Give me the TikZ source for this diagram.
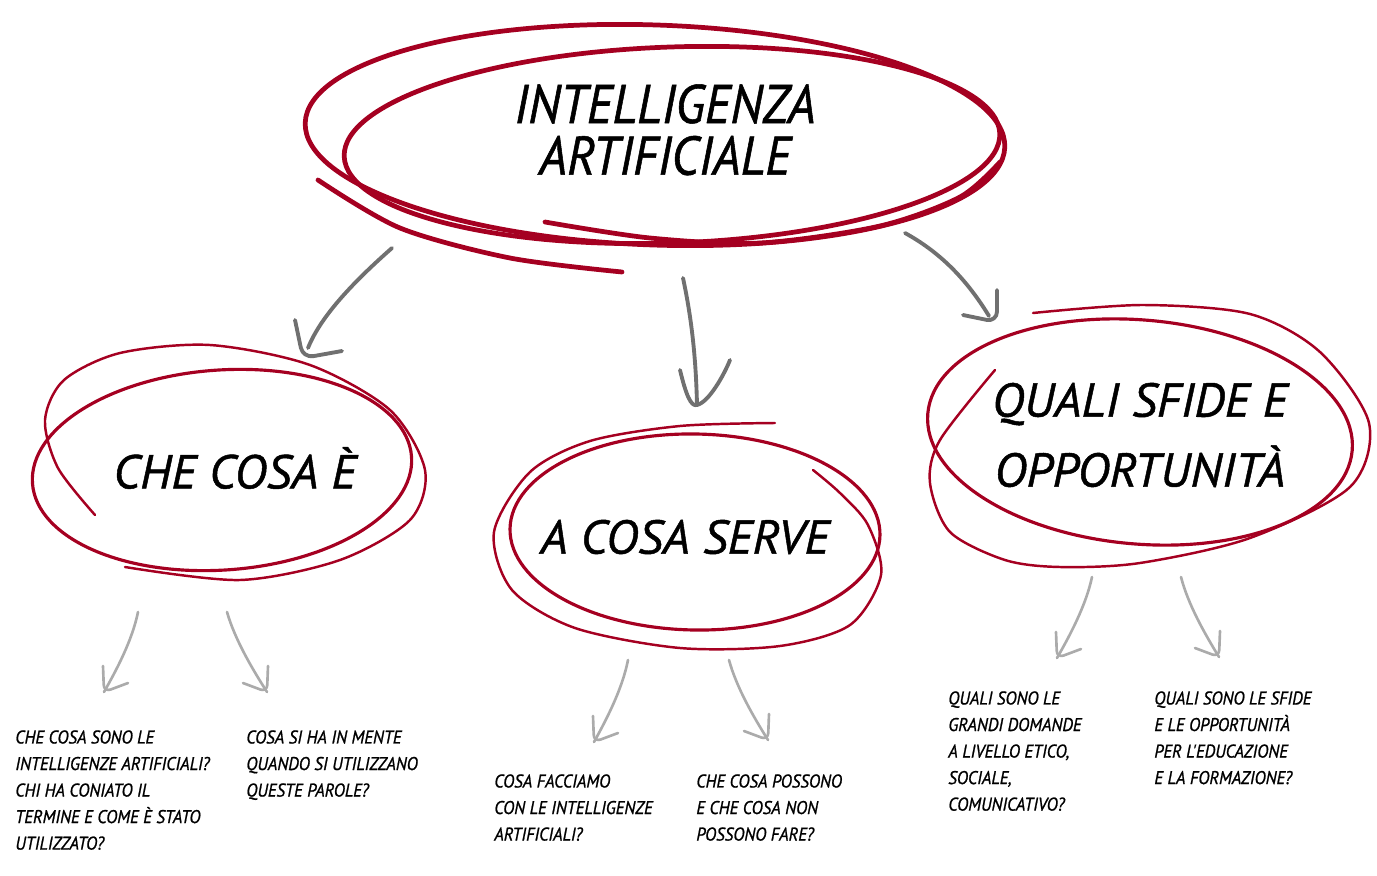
\documentclass[tikz,border=0pt]{standalone}
\usepackage{fontspec}
\newfontfamily\hand{PT Sans}[FakeStretch=0.92, FakeBold=1]
\newfontfamily\handwide{PT Sans}[FakeStretch=1.03, FakeBold=1]
\usetikzlibrary{positioning,calc}
\definecolor{scribred}{HTML}{A50021}
\definecolor{arrowdark}{HTML}{707070}
\definecolor{arrowlight}{HTML}{ABABAB}
\tikzset{
  scrib/.style={draw=scribred, line width=1.8pt, line cap=round},
  thinscrib/.style={draw=scribred, line width=1.4pt, line cap=round},
  bigscrib/.style={draw=scribred, line width=2.7pt, line cap=round},
  toparrow/.style={draw=arrowdark, line width=2.2pt, line cap=round, line join=round},
  subarrow/.style={draw=arrowlight, line width=1.5pt, line cap=round, line join=round},
  question/.style={anchor=north west, inner sep=0pt, align=left, font=\hand\itshape\fontsize{10.5}{15.1}\selectfont},
  topic/.style={inner sep=0pt, align=center, font=\handwide\itshape\fontsize{27}{39.8}\selectfont},
  titleline/.style={inner sep=0pt, font=\hand\itshape\fontsize{31}{36}\selectfont}
}

\begin{document}
\begin{tikzpicture}[x=0.02cm, y=-0.02cm]
\useasboundingbox (0,0) rectangle (1377,876);

% the title
\node (Title) [titleline] at (665,104) {INTELLIGENZA};
\node (Title2) [titleline, below=0.23cm of Title] {ARTIFICIALE};
\draw[bigscrib] (655,135) ellipse [x radius=350, y radius=110, rotate=-2];
\draw[bigscrib] (672,145) ellipse [x radius=328, y radius=98, rotate=2];
\draw[bigscrib] plot[smooth] coordinates {(318,180) (400,228) (510,258) (622,272)};
\draw[bigscrib] plot[smooth] coordinates {(545,222) (650,238) (760,243) (880,226) (960,197) (1000,162)};

% the three topics
\node (What) [topic] at (235,468) {CHE COSA È};
\draw[scrib] (222,470) ellipse [x radius=190, y radius=100, rotate=4];
\draw[thinscrib] plot[smooth] coordinates {(95,515) (58,468) (45,420) (64,380) (120,353) (210,345) (310,365) (390,410) (425,470) (410,520) (340,560) (240,580) (125,567)};

\node (Use) [topic] at (685,537) {A COSA SERVE};
\draw[scrib] (695,532) ellipse [x radius=185, y radius=98, rotate=-1];
\draw[thinscrib] plot[smooth] coordinates {(775,423) (680,426) (590,441) (530,472) (494,532) (512,590) (575,628) (680,648) (780,646) (850,625) (881,575) (868,525) (840,493) (813,470)};

\node (Chal) [topic] at (1140,435) {QUALI SFIDE E\\OPPORTUNITÀ};
\draw[scrib] (1140,432) ellipse [x radius=213, y radius=112, rotate=-5];
\draw[thinscrib] plot[smooth] coordinates {(1033,313) (1143,305) (1250,314) (1320,352) (1369,423) (1350,487) (1250,538) (1140,563) (1060,567) (1005,560) (950,532) (930,483) (940,440) (995,370)};

% arrows from the title
\coordinate (a1) at (392,248); \coordinate (h1) at (303,358);
\coordinate (a2) at (683,278); \coordinate (h2) at (697,405);
\coordinate (a3) at (905,233); \coordinate (h3) at (997,322);
\draw[toparrow] (a1) .. controls (350,285) and (320,318) .. ([shift={(5,-10)}]h1);
\draw[toparrow, rounded corners=6pt] (h1) ++(-8,-38) -- (h1) -- ++(39,-7);
\draw[toparrow] (a2) .. controls (692,320) and (696,360) .. (h2);
\draw[toparrow] (h2) ++(-17,-35) .. controls ++(6,25) and ++(-6,2) .. (h2) .. controls ++(12,-3) and ++(-6,15) .. ++(33,-45);
\draw[toparrow] (a3) .. controls (945,255) and (970,285) .. ([shift={(-8,-6)}]h3);
\draw[toparrow, rounded corners=6pt] (h3) ++(0,-32) -- (h3) -- ++(-34,-7);

% arrows to the questions
\foreach \tx/\ty/\hx/\hy/\dx in {138/612/104/692/1, 227/612/267/692/-1, 628/660/594/742/1, 729/660/768/740/-1, 1092/577/1057/658/1, 1181/577/1219/657/-1}{
  \coordinate (tl) at (\tx,\ty); \coordinate (hd) at (\hx,\hy);
  \draw[subarrow] (tl) .. controls ($(tl)!0.4!(hd)+(\dx*8,-4)$) and ($(tl)!0.75!(hd)+(\dx*4,-2)$) .. (hd);
  \draw[subarrow, rounded corners=4pt] (hd) ++({-1*\dx},-26) -- (hd) -- ++({24*\dx},-9);
}

% the questions
\node (Q1) [question] at (15,730) {CHE COSA SONO LE\\INTELLIGENZE ARTIFICIALI?\\CHI HA CONIATO IL\\TERMINE E COME È STATO\\UTILIZZATO?};
\node (Q2) [question] at (246,730) {COSA SI HA IN MENTE\\QUANDO SI UTILIZZANO\\QUESTE PAROLE?};
\node (Q3) [question] at (494,774) {COSA FACCIAMO\\CON LE INTELLIGENZE\\ARTIFICIALI?};
\node (Q4) [question] at (696,774) {CHE COSA POSSONO\\E CHE COSA NON\\POSSONO FARE?};
\node (Q5) [question] at (948,691) {QUALI SONO LE\\GRANDI DOMANDE\\A LIVELLO ETICO,\\SOCIALE,\\COMUNICATIVO?};
\node (Q6) [question] at (1154,691) {QUALI SONO LE SFIDE\\E LE OPPORTUNITÀ\\PER L'EDUCAZIONE\\E LA FORMAZIONE?};
\end{tikzpicture}
\end{document}
